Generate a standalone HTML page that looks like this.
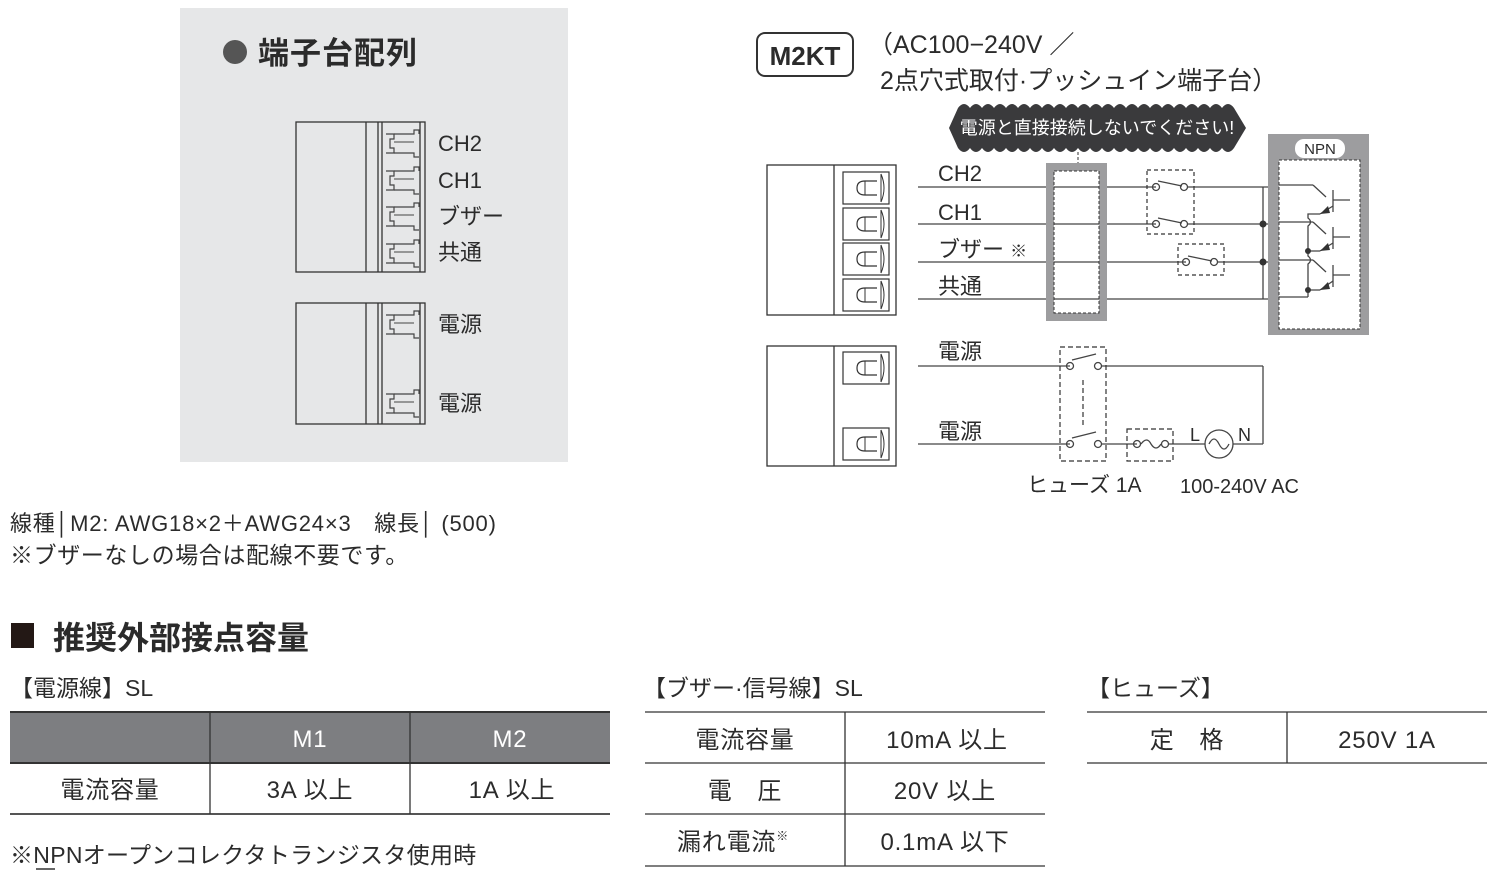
<!DOCTYPE html>
<html><head><meta charset="utf-8"><style>
html,body{margin:0;padding:0;background:#fff;}
svg{display:block;}
text{font-family:"Liberation Sans","Noto Sans CJK JP",sans-serif;fill:#2b2b2b;}
</style></head><body>
<svg width="1497" height="876" viewBox="0 0 1497 876" xmlns="http://www.w3.org/2000/svg">
<defs>
<g id="pt">
 <rect x="0" y="0" width="46" height="32" fill="#fff" stroke="#333" stroke-width="1.2"/>
 <path d="M38 2 Q44 16 38 30 M38 2 V30" fill="none" stroke="#333" stroke-width="1"/>
 <path d="M34 9 H22 Q14 9 14 16 Q14 23 22 23 H34" fill="none" stroke="#333" stroke-width="1.2"/>
 <line x1="22" y1="9" x2="22" y2="23" stroke="#333"/>
</g>
<g id="lt">
 <path d="M0 4 H8 V9 H4 V18 H8 V23 H0" fill="none" stroke="#444" stroke-width="1.2"/>
 <path d="M8 4 H28 V0 H33 V4 M8 23 H28 V27 H33" fill="none" stroke="#444" stroke-width="1.2"/>
 <line x1="8" y1="12" x2="28" y2="12" stroke="#444"/>
</g>
</defs>

<rect x="180" y="8" width="388" height="454" fill="#e6e7e8"/>
<circle cx="235" cy="52" r="12" fill="#555"/>
<text x="258" y="64" font-size="31" font-weight="bold" fill="#333" letter-spacing="1">端子台配列</text>
<g stroke="#333" stroke-width="1.3" fill="none">
 <rect x="296" y="122" width="129" height="150"/>
 <line x1="366" y1="122" x2="366" y2="272"/>
 <line x1="378" y1="122" x2="378" y2="272"/>
 <line x1="382" y1="122" x2="382" y2="272"/>
 <line x1="420" y1="122" x2="420" y2="272"/>
 <rect x="296" y="303" width="129" height="121"/>
 <line x1="366" y1="303" x2="366" y2="424"/>
 <line x1="378" y1="303" x2="378" y2="424"/>
 <line x1="382" y1="303" x2="382" y2="424"/>
 <line x1="420" y1="303" x2="420" y2="424"/>
</g>
<use href="#lt" x="386" y="130"/><use href="#lt" x="386" y="167"/>
<use href="#lt" x="386" y="203"/><use href="#lt" x="386" y="240"/>
<use href="#lt" x="386" y="311"/><use href="#lt" x="386" y="390"/>
<g font-size="22">
<text x="438" y="151">CH2</text><text x="438" y="188">CH1</text>
<text x="438" y="224">ブザー</text><text x="438" y="260">共通</text>
<text x="438" y="332">電源</text><text x="438" y="411">電源</text>
</g>

<rect x="757" y="33" width="96" height="43" rx="8" fill="#fff" stroke="#333" stroke-width="2"/>
<text x="805" y="65" font-size="26" font-weight="bold" text-anchor="middle" fill="#333">M2KT</text>
<text x="868" y="53" font-size="25">（AC100−240V ／</text>
<text x="880" y="89" font-size="25">2点穴式取付·プッシュイン端子台）</text>

<path d="M958 108 Q964 100 970 108 Q976 100 982 108 Q988 100 994 108 Q1000 100 1006 108 Q1012 100 1018 108 Q1024 100 1030 108 Q1036 100 1042 108 Q1048 100 1054 108 Q1060 100 1066 108 Q1072 100 1078 108 Q1084 100 1090 108 Q1096 100 1102 108 Q1108 100 1114 108 Q1120 100 1126 108 Q1132 100 1138 108 Q1144 100 1150 108 Q1156 100 1162 108 Q1168 100 1174 108 Q1180 100 1186 108 Q1192 100 1198 108 Q1204 100 1210 108 Q1216 100 1222 108 Q1228 100 1234 108 L1246 128 L1234 148 Q1228 156 1222 148 Q1216 156 1210 148 Q1204 156 1198 148 Q1192 156 1186 148 Q1180 156 1174 148 Q1168 156 1162 148 Q1156 156 1150 148 Q1144 156 1138 148 Q1132 156 1126 148 Q1120 156 1114 148 Q1108 156 1102 148 Q1096 156 1090 148 Q1084 156 1078 148 Q1072 156 1066 148 Q1060 156 1054 148 Q1048 156 1042 148 Q1036 156 1030 148 Q1024 156 1018 148 Q1012 156 1006 148 Q1000 156 994 148 Q988 156 982 148 Q976 156 970 148 Q964 156 958 148 L949 128 Z" fill="#3a3a3c"/>
<text x="1097" y="134" font-size="18" text-anchor="middle" style="fill:#fff">電源と直接接続しないでください!</text>
<line x1="1078" y1="152" x2="1078" y2="166" stroke="#333" stroke-dasharray="3,2"/>
<path d="M1074 164 L1078 170 L1082 164 Z" fill="#333"/>

<g stroke="#333" stroke-width="1.3" fill="none">
 <rect x="767" y="165" width="129" height="150"/>
 <line x1="834" y1="165" x2="834" y2="315"/>
 <rect x="767" y="346" width="129" height="120"/>
 <line x1="834" y1="346" x2="834" y2="466"/>
</g>
<use href="#pt" x="843" y="172"/><use href="#pt" x="843" y="208"/>
<use href="#pt" x="843" y="243"/><use href="#pt" x="843" y="279"/>
<use href="#pt" x="843" y="352"/><use href="#pt" x="843" y="428"/>

<g font-size="22">
<text x="938" y="181">CH2</text><text x="938" y="220">CH1</text>
<text x="938" y="257">ブザー <tspan font-size="17">※</tspan></text><text x="938" y="294">共通</text>
<text x="938" y="359">電源</text><text x="938" y="439">電源</text>
</g>

<g stroke="#444" stroke-width="1.3" fill="none">
 <line x1="918" y1="187" x2="1156" y2="187"/><line x1="1188" y1="187" x2="1263" y2="187"/>
 <line x1="918" y1="224" x2="1156" y2="224"/><line x1="1188" y1="224" x2="1263" y2="224"/>
 <line x1="918" y1="262" x2="1186" y2="262"/><line x1="1218" y1="262" x2="1263" y2="262"/>
 <line x1="918" y1="299" x2="1263" y2="299"/>
 <line x1="1263" y1="187" x2="1263" y2="299"/>
 <line x1="1263" y1="187" x2="1285" y2="187"/>
 <line x1="1263" y1="224" x2="1285" y2="224"/>
 <line x1="1263" y1="262" x2="1285" y2="262"/>
 <line x1="1263" y1="299" x2="1285" y2="299"/>
 <circle cx="1156" cy="187" r="3.5"/><circle cx="1184" cy="187" r="3.5"/><line x1="1158" y1="181" x2="1182" y2="186"/>
 <circle cx="1156" cy="224" r="3.5"/><circle cx="1184" cy="224" r="3.5"/><line x1="1158" y1="218" x2="1182" y2="223"/>
 <circle cx="1186" cy="262" r="3.5"/><circle cx="1214" cy="262" r="3.5"/><line x1="1188" y1="256" x2="1212" y2="261"/>
</g>
<g stroke="#333" stroke-width="1.2" fill="none" stroke-dasharray="4,3">
 <rect x="1147" y="170" width="47" height="64"/>
 <rect x="1178" y="244" width="46" height="31"/>
</g>
<circle cx="1263" cy="224" r="3.5" fill="#333"/><circle cx="1263" cy="262" r="3.5" fill="#333"/>

<rect x="1050" y="167" width="53" height="150" fill="none" stroke="#9d9d9f" stroke-width="8"/>
<rect x="1054" y="171" width="45" height="142" fill="none" stroke="#333" stroke-width="1" stroke-dasharray="3,2"/>

<rect x="1268" y="134" width="101" height="201" fill="#9d9d9f"/>
<rect x="1279" y="160" width="81" height="169" fill="#fff" stroke="#333" stroke-dasharray="3,2"/>
<rect x="1295" y="139" width="50" height="19" rx="9" fill="#fff"/>
<text x="1320" y="154" font-size="15" text-anchor="middle">NPN</text>
<g stroke="#444" stroke-width="1.3" fill="none">
 <line x1="1279" y1="185" x2="1313" y2="185"/>
 <line x1="1313" y1="185" x2="1326" y2="197"/><line x1="1333" y1="190" x2="1333" y2="212"/><line x1="1333" y1="200" x2="1350" y2="200"/>
 <line x1="1333" y1="206" x2="1320" y2="214"/>
 <line x1="1279" y1="222" x2="1313" y2="222"/>
 <line x1="1313" y1="222" x2="1326" y2="234"/><line x1="1333" y1="227" x2="1333" y2="249"/><line x1="1333" y1="237" x2="1350" y2="237"/>
 <line x1="1333" y1="243" x2="1320" y2="251"/>
 <line x1="1279" y1="260" x2="1313" y2="260"/>
 <line x1="1313" y1="260" x2="1326" y2="272"/><line x1="1333" y1="265" x2="1333" y2="287"/><line x1="1333" y1="275" x2="1350" y2="275"/>
 <line x1="1333" y1="281" x2="1320" y2="290"/>
 <path d="M1320 214 H1308 V218 Q1313 222 1308 226 V251 H1320"/>
 <path d="M1308 251 V256 Q1313 260 1308 264 V290 H1320"/>
 <line x1="1279" y1="297" x2="1308" y2="297"/><line x1="1308" y1="290" x2="1308" y2="297"/>
</g>
<path d="M1320 214 L1328 206 L1330 213 Z M1320 251 L1328 243 L1330 250 Z M1320 290 L1328 282 L1330 289 Z" fill="#333"/>
<circle cx="1308" cy="251" r="3" fill="#333"/><circle cx="1308" cy="290" r="3" fill="#333"/>

<g stroke="#444" stroke-width="1.3" fill="none">
 <line x1="918" y1="366" x2="1070" y2="366"/><line x1="1101" y1="366" x2="1263" y2="366"/>
 <line x1="1263" y1="366" x2="1263" y2="444"/><line x1="1233" y1="444" x2="1263" y2="444"/>
 <line x1="918" y1="444" x2="1070" y2="444"/><line x1="1101" y1="444" x2="1137" y2="444"/>
 <line x1="1168" y1="444" x2="1205" y2="444"/>
 <circle cx="1070" cy="366" r="3.5"/><circle cx="1098" cy="366" r="3.5"/><line x1="1072" y1="360" x2="1096" y2="354"/>
 <circle cx="1070" cy="444" r="3.5"/><circle cx="1098" cy="444" r="3.5"/><line x1="1072" y1="438" x2="1096" y2="432"/>
 <circle cx="1137" cy="444" r="3.5"/><circle cx="1165" cy="444" r="3.5"/><path d="M1141 444 Q1147 436 1151 444 Q1156 452 1161 444"/>
 <circle cx="1219" cy="444" r="14"/><path d="M1209 444 Q1214 434 1219 444 Q1224 454 1229 444"/>
</g>
<g stroke="#333" stroke-width="1.2" fill="none" stroke-dasharray="5,3">
 <rect x="1060" y="347" width="46" height="114"/>
 <line x1="1083" y1="380" x2="1083" y2="428"/>
 <rect x="1127" y="429" width="46" height="32"/>
</g>
<text x="1190" y="441" font-size="18">L</text><text x="1238" y="441" font-size="18">N</text>
<text x="1027" y="492" font-size="21">ヒューズ 1A</text>
<text x="1180" y="493" font-size="20">100-240V AC</text>

<text x="10" y="531" font-size="22" letter-spacing="0.8">線種│M2: AWG18×2＋AWG24×3　線長│ (500)</text>
<text x="10" y="563" font-size="23" letter-spacing="0.6">※ブザーなしの場合は配線不要です。</text>

<rect x="11" y="623" width="23" height="25" fill="#231815"/>
<text x="53" y="649" font-size="32" font-weight="bold" fill="#333">推奨外部接点容量</text>

<g font-size="23">
<text x="10" y="696">【電源線】SL</text>
<text x="643" y="696">【ブザー·信号線】SL</text>
<text x="1087" y="696">【ヒューズ】</text>
</g>

<rect x="10" y="712" width="600" height="51" fill="#7d7e81"/>
<g stroke="#333" stroke-width="1.3">
 <line x1="10" y1="712" x2="610" y2="712" stroke-width="2"/>
 <line x1="10" y1="763" x2="610" y2="763" stroke-width="2"/>
 <line x1="10" y1="814" x2="610" y2="814" stroke-width="2" stroke="#555"/>
 <line x1="210" y1="712" x2="210" y2="814"/>
 <line x1="410" y1="712" x2="410" y2="814"/>
</g>
<g font-size="24" text-anchor="middle" letter-spacing="0.8">
<text x="310" y="747" style="fill:#fff">M1</text><text x="510" y="747" style="fill:#fff">M2</text>
<text x="110" y="798">電流容量</text><text x="310" y="798">3A 以上</text><text x="512" y="798">1A 以上</text>
</g>
<text x="10" y="863" font-size="23" letter-spacing="0.3">※NPNオープンコレクタトランジスタ使用時</text>
<line x1="36" y1="869" x2="55" y2="869" stroke="#333" stroke-width="1.5"/>

<g stroke="#333" stroke-width="1.3">
 <line x1="645" y1="712" x2="1045" y2="712"/><line x1="645" y1="763" x2="1045" y2="763"/>
 <line x1="645" y1="814" x2="1045" y2="814"/><line x1="645" y1="866" x2="1045" y2="866"/>
 <line x1="845" y1="712" x2="845" y2="866"/>
</g>
<g font-size="24" text-anchor="middle" letter-spacing="0.8">
<text x="745" y="748">電流容量</text><text x="947" y="748">10mA 以上</text>
<text x="745" y="799">電　圧</text><text x="945" y="799">20V 以上</text>
<text x="733" y="850">漏れ電流<tspan font-size="12" dy="-10">※</tspan></text><text x="945" y="850">0.1mA 以下</text>
</g>

<g stroke="#333" stroke-width="1.3">
 <line x1="1087" y1="712" x2="1487" y2="712"/><line x1="1087" y1="763" x2="1487" y2="763"/>
 <line x1="1287" y1="712" x2="1287" y2="763"/>
</g>
<g font-size="24" text-anchor="middle" letter-spacing="0.8">
<text x="1187" y="748">定　格</text><text x="1387" y="748">250V 1A</text>
</g>
</svg>
</body></html>
